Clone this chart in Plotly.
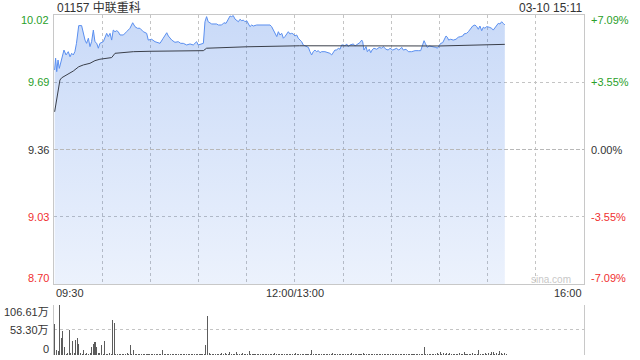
import plotly.graph_objects as go

# ---------------- data ----------------
title_text = "01157 中联重科"
time_text = "03-10 15:11"
watermark_text = "sina.com"
prev_close = 9.36
price_range = [8.70, 10.02]
price_ticks = [10.02, 9.69, 9.36, 9.03, 8.70]
price_tick_labels = ["10.02", "9.69", "9.36", "9.03", "8.70"]
pct_tick_labels = ["+7.09%", "+3.55%", "0.00%", "-3.55%", "-7.09%"]
time_ticks = [0, 150, 330]
time_tick_labels = ["09:30", "12:00/13:00", "16:00"]
session_minutes = 330
vol_max = 106.61
vol_ticks = [106.61, 53.30, 0]
vol_tick_labels = ["106.61万", "53.30万", "0"]

# (minute since open, price)
price_points = [
    (0.4, 9.750), (1.0, 9.808), (1.7, 9.742), (2.5, 9.799), (3.3, 9.758), (4.8, 9.799),
    (6.2, 9.848), (7.5, 9.824), (8.9, 9.840), (10, 9.815), (11, 9.832), (12, 9.824),
    (13, 9.840), (14, 9.881), (15.4, 9.968), (17.2, 9.968), (18.3, 9.930), (19.3, 9.897),
    (20.3, 9.881), (21.4, 9.906), (22.4, 9.865), (23.4, 9.889), (24.5, 9.946), (25.5, 9.889),
    (26.6, 9.881), (27.6, 9.857), (28.6, 9.881), (30.7, 9.889), (32.8, 9.930), (33.8, 9.914),
    (34.9, 9.930), (35.9, 9.897), (36.9, 9.946), (38, 9.938), (39, 9.943), (40, 9.938),
    (41.1, 9.922), (43.2, 9.922), (45.2, 9.938), (47.3, 9.955), (49, 9.982), (50.4, 9.963),
    (51.9, 9.955), (53.5, 9.955), (55.6, 9.938), (57.7, 9.930), (58.7, 9.897), (60.8, 9.901),
    (62.9, 9.889), (64.9, 9.886), (66, 9.881), (68, 9.906), (70.2, 9.933), (71.2, 9.917),
    (73.3, 9.897), (75.3, 9.886), (77.4, 9.889), (78.9, 9.881), (80.5, 9.881), (82.6, 9.873),
    (84.7, 9.878), (86.7, 9.873), (88.8, 9.889), (89.8, 9.873), (92, 9.881), (93, 9.881),
    (94, 9.987), (95, 10.012), (96, 9.987), (98.2, 9.976), (101.3, 9.976), (102.3, 9.971),
    (104.4, 9.971), (105.8, 9.982), (107.1, 9.979), (108.5, 10.004), (109.6, 10.015), (110.6, 10.012),
    (111.6, 10.017), (112.7, 10.000), (113.7, 9.995), (114.8, 9.987), (115.8, 9.999), (116.9, 9.992),
    (117.9, 9.995), (118.9, 9.987), (120, 9.992), (121, 9.979), (122, 9.963), (123.1, 9.971),
    (124.1, 9.966), (126.2, 9.971), (128.3, 9.971), (130.3, 9.971), (132.4, 9.971), (134.5, 9.971),
    (135.5, 9.963), (136.5, 9.946), (137.6, 9.933), (138.7, 9.914), (139.7, 9.938), (140.7, 9.922),
    (141.8, 9.930), (142.8, 9.906), (143.8, 9.914), (144.9, 9.930), (145.9, 9.938), (146.9, 9.927),
    (148, 9.930), (149, 9.927), (150, 9.917), (151.1, 9.922), (152.1, 9.906), (153.2, 9.897),
    (154.2, 9.889), (155.2, 9.873), (156.3, 9.868), (157.3, 9.865), (158.4, 9.861), (159.4, 9.840),
    (160.4, 9.824), (161.4, 9.840), (162.5, 9.848), (163.5, 9.840), (164.6, 9.845), (165.6, 9.835),
    (166.6, 9.840), (168.7, 9.840), (170.8, 9.835), (171.8, 9.832), (172.9, 9.824), (173.9, 9.840),
    (174.9, 9.848), (176, 9.848), (177, 9.857), (178.1, 9.852), (179.1, 9.873), (180.1, 9.873),
    (181.2, 9.868), (182.2, 9.878), (183.2, 9.865), (184.3, 9.873), (186.4, 9.878), (187.4, 9.868),
    (188.4, 9.873), (189.5, 9.881), (190.5, 9.885), (191.6, 9.897), (192.2, 9.889), (193, 9.848),
    (194.3, 9.865), (195.1, 9.840), (196.3, 9.852), (197.2, 9.835), (198, 9.848), (199.2, 9.857),
    (200.9, 9.852), (202.5, 9.861), (204, 9.857), (205, 9.865), (206.7, 9.852), (208.1, 9.848),
    (209.2, 9.857), (210.9, 9.848), (212.3, 9.852), (213.4, 9.857), (214.4, 9.848), (215.4, 9.852),
    (216.5, 9.861), (217.5, 9.848), (219.2, 9.852), (220.6, 9.840), (222.7, 9.840), (224.8, 9.845),
    (226.8, 9.845), (228.3, 9.845), (229.5, 9.873), (230.4, 9.894), (231.2, 9.881), (232.4, 9.861),
    (233.7, 9.868), (235.2, 9.865), (236.6, 9.865), (237.8, 9.861), (238.7, 9.857), (239.9, 9.868),
    (240.8, 9.881), (242, 9.884), (242.8, 9.897), (244.1, 9.917), (244.9, 9.911), (245.7, 9.897),
    (247, 9.901), (248.6, 9.897), (250.3, 9.901), (251.7, 9.911), (253.2, 9.914), (254.5, 9.917),
    (255.3, 9.927), (256.9, 9.930), (258, 9.938), (259.4, 9.950), (260.7, 9.966), (262.1, 9.971),
    (263.2, 9.963), (264.2, 9.950), (265.2, 9.966), (266.3, 9.943), (267.3, 9.960), (268.3, 9.955),
    (269.4, 9.963), (271, 9.960), (272.5, 9.955), (273.5, 9.946), (274.6, 9.960), (275.6, 9.971),
    (276.6, 9.979), (277.7, 9.976), (278.7, 9.987), (279.7, 9.979), (280.7, 9.971),
]

# (minute since open, average price)
avg_points = [
    (0.4, 9.545), (1.7, 9.603), (2.9, 9.668), (3.7, 9.701), (4.8, 9.712), (6.9, 9.721),
    (8.9, 9.729), (12, 9.745), (15.4, 9.766), (18.3, 9.775), (22.4, 9.783), (25.5, 9.796),
    (28.6, 9.803), (32.8, 9.808), (35.9, 9.811), (38, 9.832), (41.1, 9.835), (49.4, 9.840),
    (59.8, 9.842), (70.2, 9.843), (80.5, 9.845), (93, 9.845), (95, 9.857), (120, 9.864),
    (153, 9.869), (190.5, 9.869), (240, 9.868), (280.7, 9.876),
]

# volume per minute (万 shares), minutes 0..281
volumes = [
    66, 10, 9, 106.6, 37, 50, 16, 3, 4, 52, 4, 29, 4, 32, 37, 24, 4, 3, 10, 3,
    4, 3, 4, 16, 23, 28, 16, 4, 4, 22, 3, 30, 3, 2, 4, 3, 75, 68, 3, 2,
    3, 2, 2, 3, 2, 4, 3, 21, 3, 10, 2, 3, 2, 2, 3, 2, 2, 3, 2, 2,
    3, 2, 2, 3, 2, 3, 2, 11, 3, 2, 2, 3, 2, 2, 3, 2, 2, 2, 3, 2,
    2, 3, 2, 2, 3, 2, 2, 2, 3, 2, 2, 3, 2, 3, 22, 82, 4, 3, 3, 3,
    3, 3, 3, 2, 5, 3, 4, 2, 3, 7, 3, 2, 3, 7, 3, 3, 2, 5, 3, 2,
    3, 9, 3, 2, 3, 2, 2, 3, 2, 3, 2, 2, 3, 2, 2, 3, 2, 5, 3, 2,
    2, 3, 2, 2, 3, 2, 2, 3, 2, 2, 4, 3, 2, 3, 2, 2, 3, 2, 2, 3,
    10, 3, 2, 3, 2, 2, 3, 2, 2, 3, 2, 3, 2, 5, 3, 2, 2, 3, 2, 2,
    3, 2, 2, 3, 2, 4, 3, 2, 2, 3, 2, 2, 4, 3, 2, 2, 3, 2, 2, 3,
    2, 2, 3, 2, 2, 3, 2, 2, 3, 2, 3, 2, 2, 3, 2, 2, 3, 2, 3, 2,
    2, 3, 2, 3, 2, 3, 2, 3, 3, 3, 17, 3, 2, 3, 2, 2, 3, 2, 4, 3,
    7, 3, 5, 3, 4, 3, 4, 3, 2, 3, 3, 3, 5, 3, 3, 7, 3, 3, 3, 3,
    4, 3, 3, 3, 10, 3, 3, 3, 5, 3, 4, 3, 6, 7, 3, 5, 3, 8, 5, 3,
    4, 3,
]

# ---------------- styling ----------------
W, H = 640, 360
M_L, M_R, M_T, M_B = 54, 56, 15, 5
PLOT_H = H - M_T - M_B
FONT = "Liberation Sans, Arial, Noto Sans CJK SC, sans-serif"
GREEN = "#2aa02a"
RED = "#f03030"
DARK = "#333333"
GRID = "#c4c4c4"
BORDER = "#c8c8c8"


def py(ypix):
    """pixel y (from top of page) -> paper coordinate"""
    return (H - M_B - ypix) / PLOT_H


main_dom = [py(284), 1.0]
vol_dom = [0.0, py(304.6)]

px_, pv_ = zip(*price_points)
ax_, av_ = zip(*avg_points)

fig = go.Figure()
fig.add_trace(go.Scatter(
    x=list(px_), y=list(pv_), mode="lines",
    line=dict(color="#5a8ff0", width=1),
    fill="tozeroy",
    fillgradient=dict(type="vertical",
                      colorscale=[[0, "rgba(30,100,225,0.085)"], [1, "rgba(30,100,225,0.24)"]],
                      start=price_range[0], stop=price_range[1]),
    hoverinfo="skip", xaxis="x", yaxis="y",
))
fig.add_trace(go.Scatter(
    x=list(ax_), y=list(av_), mode="lines",
    line=dict(color="#3a3f4a", width=1),
    hoverinfo="skip", xaxis="x", yaxis="y",
))
fig.add_trace(go.Bar(
    x=list(range(len(volumes))), y=volumes, width=0.65, offset=0.2,
    marker=dict(color="#5c5c5c", line=dict(width=0)),
    hoverinfo="skip", xaxis="x2", yaxis="y2",
))

annotations = []
# left price labels & right percentage labels
shifts = [-5, 0, 0, 0, 6]
colors = [GREEN, GREEN, DARK, RED, RED]
for v, lab, pct, s, c in zip(price_ticks, price_tick_labels, pct_tick_labels, shifts, colors):
    annotations.append(dict(xref="paper", yref="y", x=0, y=v, text=lab, showarrow=False,
                            xanchor="right", yanchor="middle", xshift=-3, yshift=s,
                            font=dict(family=FONT, size=11, color=c)))
    annotations.append(dict(xref="paper", yref="y", x=1, y=v, text=pct, showarrow=False,
                            xanchor="left", yanchor="middle", xshift=5, yshift=s,
                            font=dict(family=FONT, size=11, color=c)))
# time labels
anchors = ["left", "center", "right"]
for t, lab, a in zip(time_ticks, time_tick_labels, anchors):
    annotations.append(dict(xref="x", yref="paper", x=t, y=py(293), text=lab, showarrow=False,
                            xanchor=a, yanchor="middle",
                            font=dict(family=FONT, size=11, color=DARK)))
# volume labels
vshifts = [-7, 0, 6]
for v, lab, s in zip(vol_ticks, vol_tick_labels, vshifts):
    annotations.append(dict(xref="paper", yref="y2", x=0, y=v, text=lab, showarrow=False,
                            xanchor="right", yanchor="middle", xshift=-3, yshift=s,
                            font=dict(family=FONT, size=11, color=DARK)))
# title / time / watermark
annotations.append(dict(xref="paper", yref="paper", x=0, y=py(7.5), text=title_text,
                        showarrow=False, xanchor="left", yanchor="middle", xshift=1,
                        font=dict(family=FONT, size=12, color=DARK)))
annotations.append(dict(xref="paper", yref="paper", x=1, y=py(7.5), text=time_text,
                        showarrow=False, xanchor="right", yanchor="middle",
                        font=dict(family=FONT, size=12, color=DARK)))
annotations.append(dict(xref="paper", yref="paper", x=(573 - M_L) / (W - M_L - M_R), y=py(279.3),
                        text=watermark_text, showarrow=False, xanchor="right", yanchor="middle",
                        font=dict(family=FONT, size=10, color="#c8c8c8")))

fig.update_layout(
    width=W, height=H,
    margin=dict(l=M_L, r=M_R, t=M_T, b=M_B),
    paper_bgcolor="white", plot_bgcolor="white",
    showlegend=False, hovermode=False, bargap=0,
    xaxis=dict(domain=[0, 1], range=[0, session_minutes], anchor="y",
               tick0=0, dtick=30, showgrid=True, gridcolor=GRID, griddash="dot", gridwidth=1,
               showticklabels=False, ticks="", zeroline=False,
               showline=True, mirror=True, linecolor=BORDER, linewidth=1),
    yaxis=dict(domain=main_dom, range=price_range, anchor="x",
               tickvals=[price_ticks[1], price_ticks[3]], showgrid=True, gridcolor=GRID,
               griddash="dot", gridwidth=1, showticklabels=False, ticks="", zeroline=False,
               showline=True, mirror=True, linecolor=BORDER, linewidth=1),
    xaxis2=dict(domain=[0, 1], range=[0, session_minutes], anchor="y2",
                showgrid=False, showticklabels=False, ticks="", zeroline=False, showline=False),
    yaxis2=dict(domain=vol_dom, range=[0, vol_max], anchor="x2",
                tickvals=[vol_ticks[1], vol_ticks[0]], showgrid=True, gridcolor=GRID,
                griddash="dot", gridwidth=1, showticklabels=False, ticks="", zeroline=False,
                showline=True, mirror=True, linecolor=BORDER, linewidth=1),
    annotations=annotations,
    shapes=[dict(type="line", xref="x", yref="y", x0=0, x1=session_minutes,
                 y0=prev_close, y1=prev_close,
                 line=dict(color="#b8b8b8", width=1, dash="4px,2px"))],
)

fig.write_html("out.html", config=dict(displayModeBar=False, staticPlot=True))
